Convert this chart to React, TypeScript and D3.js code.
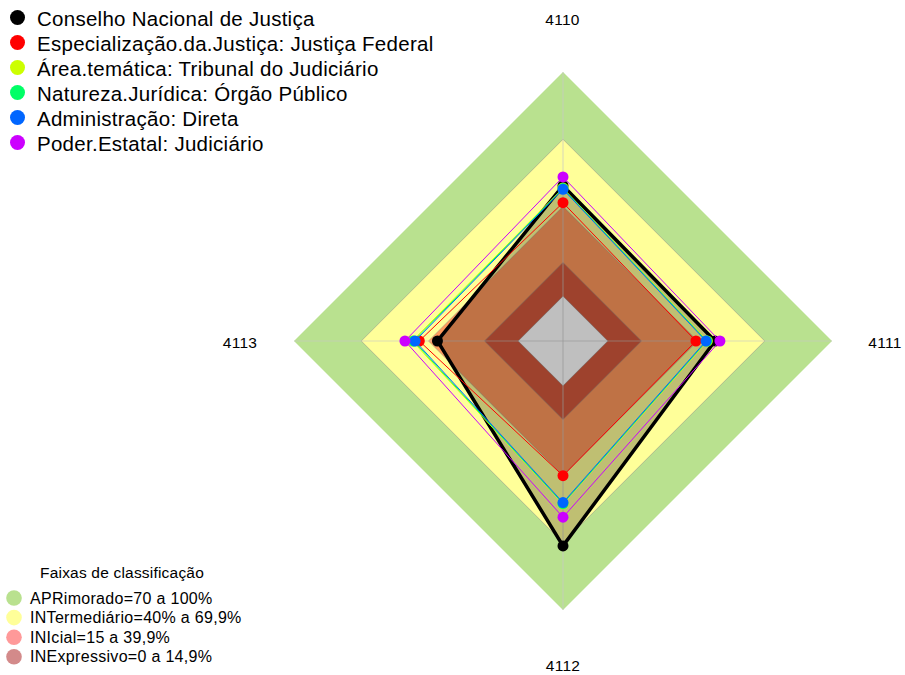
import React from "react";
import * as d3 from "d3";

const axisLabels = ["4110", "4111", "4112", "4113"];

const seriesNames = [
  "Conselho Nacional de Justiça",
  "Especialização.da.Justiça: Justiça Federal",
  "Área.temática: Tribunal do Judiciário",
  "Natureza.Jurídica: Órgão Público",
  "Administração: Direta",
  "Poder.Estatal: Judiciário",
];
const seriesColors = ["#000000", "#FF0000", "#CCFF00", "#00FF66", "#0066FF", "#CC00FF"];

const conselho = [49.3, 47.8, 71.4, 36.0];
const especializacao = [41.7, 39.3, 40.1, 44.1];
const areaTematica = [48.2, 44.4, 52.6, 47.2];
const natureza = [48.0, 44.1, 52.5, 46.6];
const administracao = [47.7, 43.8, 52.1, 46.0];
const poder = [53.2, 50.0, 58.6, 50.5];
const seriesValues = [conselho, especializacao, areaTematica, natureza, administracao, poder];

const bandNames = [
  "APRimorado=70 a 100%",
  "INTermediário=40% a 69,9%",
  "INIcial=15 a 39,9%",
  "INExpressivo=0 a 14,9%",
];
const bandLimits = [100, 70, 40, 15, 0];
const bandFills = ["#b9e18f", "#ffff99", "rgba(255,0,0,0.4)", "rgba(170,30,30,0.52)", "#ffffff"];

const W = 905;
const H = 675;
const cx = 563;
const cy = 341;
const R = 269;

export default function App() {
  const r = d3.scaleLinear().domain([0, 100]).range([R / 6, R]);
  const angle = d3
    .scalePoint<string>()
    .domain(axisLabels)
    .range([0, (2 * Math.PI * (axisLabels.length - 1)) / axisLabels.length]);
  const pt = (label: string, v: number): [number, number] => {
    const a = angle(label)!;
    return [cx + r(v) * Math.sin(a), cy - r(v) * Math.cos(a)];
  };
  const line = d3.line<[number, number]>().curve(d3.curveLinearClosed);
  const polyFor = (vals: number[]) => line(axisLabels.map((l, i) => pt(l, vals[i])))!;

  const labelPos = [
    { x: 562.5, y: 24.5 },
    { x: 885, y: 347.5 },
    { x: 563, y: 671 },
    { x: 240, y: 347.5 },
  ];

  return (
    <svg
      width={W}
      height={H}
      style={{ position: "absolute", left: 0, top: 0, background: "#ffffff" }}
      fontFamily="'Liberation Sans', Arial, sans-serif"
    >
      <rect x={0} y={0} width={W} height={H} fill="#ffffff" />
      {bandLimits.map((b, i) => (
        <path
          key={"band" + i}
          d={polyFor(axisLabels.map(() => b))}
          fill={bandFills[i]}
          stroke={i === 0 ? "none" : "rgba(140,140,140,0.5)"}
          strokeWidth={1}
        />
      ))}
      {axisLabels.map((l) => {
        const [x, y] = pt(l, 100);
        return (
          <line
            key={"ax" + l}
            x1={cx}
            y1={cy}
            x2={x}
            y2={y}
            stroke="rgba(200,200,200,0.6)"
            strokeWidth={1.2}
          />
        );
      })}
      {seriesValues.map((vals, si) => (
        <g key={"s" + si}>
          <path
            d={polyFor(vals)}
            fill={si === 0 ? "rgba(0,0,0,0.25)" : "none"}
            stroke={seriesColors[si]}
            strokeWidth={si === 0 ? 3.5 : 1}
            strokeLinejoin="miter"
          />
          {axisLabels.map((l, i) => {
            const [x, y] = pt(l, vals[i]);
            return <circle key={l} cx={x} cy={y} r={5.5} fill={seriesColors[si]} />;
          })}
        </g>
      ))}
      {axisLabels.map((l, i) => (
        <text
          key={"lbl" + l}
          x={labelPos[i].x}
          y={labelPos[i].y}
          textAnchor="middle"
          fontSize={15.5}
          letterSpacing={0.3}
          fill="#000"
        >
          {l}
        </text>
      ))}
      {seriesNames.map((n, i) => (
        <g key={"leg" + i}>
          <circle cx={17.5} cy={17.5 + i * 25} r={7.5} fill={seriesColors[i]} />
          <text x={37} y={25.5 + i * 25} fontSize={20.5} letterSpacing={0.27} fill="#000">
            {n}
          </text>
        </g>
      ))}
      <text x={122} y={578.3} textAnchor="middle" fontSize={15.5} letterSpacing={0.2} fill="#000">
        Faixas de classificação
      </text>
      {bandNames.map((n, i) => (
        <g key={"bl" + i}>
          <circle cx={14} cy={598 + i * 19.6} r={7.8} fill={bandFills[i]} />
          <text x={30} y={603.5 + i * 19.6} fontSize={16} letterSpacing={0.3} fill="#000">
            {n}
          </text>
        </g>
      ))}
    </svg>
  );
}
